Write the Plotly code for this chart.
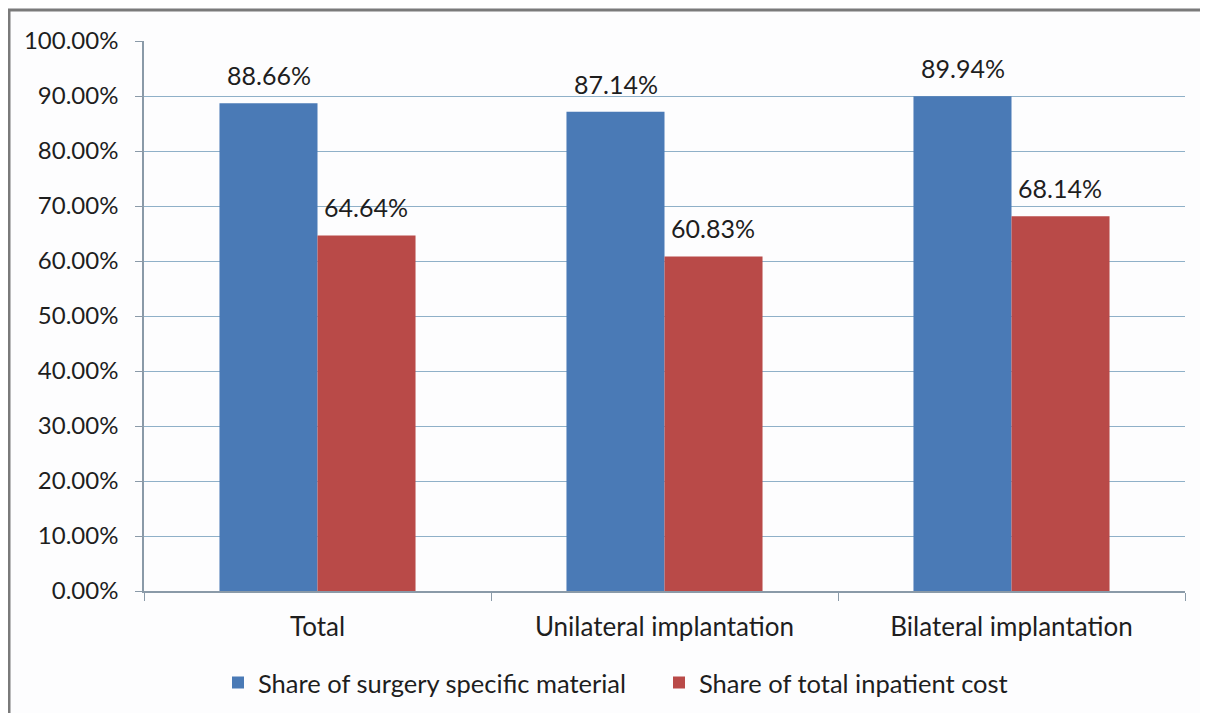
import plotly.graph_objects as go

categories = ["Total", "Unilateral implantation", "Bilateral implantation"]
surgery_material = [88.66, 87.14, 89.94]
inpatient_cost = [64.64, 60.83, 68.14]
series_names = ["Share of surgery specific material", "Share of total inpatient cost"]
y_ticks = [0, 10, 20, 30, 40, 50, 60, 70, 80, 90, 100]
y_tick_labels = [f"{v:.2f}%" for v in y_ticks]

FONT = "Lato, Carlito, 'Noto Sans', sans-serif"
TXT = "#1e1e1e"
BLUE = "#4a7ab6"
RED = "#b94a48"

FIG_W, FIG_H = 1200, 705
PLOT_W = 1041
PLOT_H = 550

fig = go.Figure()
fig.add_trace(go.Bar(
    x=categories, y=surgery_material, name=series_names[0], offsetgroup="a",
    marker=dict(color=BLUE, line=dict(width=0)), legend="legend",
))
fig.add_trace(go.Bar(
    x=categories, y=inpatient_cost, name=series_names[1], offsetgroup="b",
    marker=dict(color=RED, line=dict(width=0)), legend="legend2",
))

# data labels as annotations (positioned from data values)
annotations = []
for vals, shift in ((surgery_material, -0.14), (inpatient_cost, 0.14)):
    for i, v in enumerate(vals):
        annotations.append(dict(
            x=i + shift, y=v, xref="x", yref="y", text=f"{v:.2f}%",
            showarrow=False, yanchor="bottom", yshift=11,
            font=dict(size=25, color=TXT, family=FONT),
        ))

leg_common = dict(orientation="h", yanchor="middle", yref="container",
                  y=1 - (683 - 8) / FIG_H, xanchor="left", xref="container",
                  font=dict(size=25.5, color=TXT, family=FONT), itemwidth=30,
                  bgcolor="rgba(0,0,0,0)")

fig.update_layout(
    width=FIG_W, height=FIG_H,
    margin=dict(l=136, r=23, t=33, b=122, autoexpand=False),
    paper_bgcolor="#fdfdfe", plot_bgcolor="#fdfdfe",
    barmode="group", bargap=0.435, bargroupgap=0,
    font=dict(family=FONT, size=24, color=TXT),
    showlegend=True,
    legend=dict(x=(218 - 8) / FIG_W, **leg_common),
    legend2=dict(x=(659 - 8) / FIG_W, **leg_common),
    xaxis=dict(
        showline=True, linecolor="#8a9aa8", linewidth=1.5,
        ticks="outside", ticklen=8, tickcolor="#8a9aa8", tickson="boundaries",
        tickfont=dict(size=26, color=TXT, family=FONT), showgrid=False,
        ticklabelstandoff=12, automargin=False,
    ),
    yaxis=dict(
        range=[0, 100], tickvals=y_ticks, ticktext=y_tick_labels,
        showline=True, linecolor="#8a9aa8", linewidth=1.5,
        ticks="outside", ticklen=7, tickcolor="#8a9aa8",
        showgrid=True, gridcolor="#8fb0c8", gridwidth=1.3,
        zeroline=False, tickfont=dict(size=24, color=TXT, family=FONT),
        ticklabelstandoff=12, automargin=False,
    ),
    annotations=annotations,
    shapes=[
        dict(type="line", xref="paper", yref="paper",
             x0=-136 / PLOT_W, x1=1.1, y0=1 + 31 / PLOT_H, y1=1 + 31 / PLOT_H,
             line=dict(color="#7a7a7a", width=3)),
        dict(type="line", xref="paper", yref="paper",
             x0=-135 / PLOT_W, x1=-135 / PLOT_W, y0=1 + 31 / PLOT_H, y1=-0.3,
             line=dict(color="#7a7a7a", width=3)),
    ],
)

fig.write_html("out.html")
